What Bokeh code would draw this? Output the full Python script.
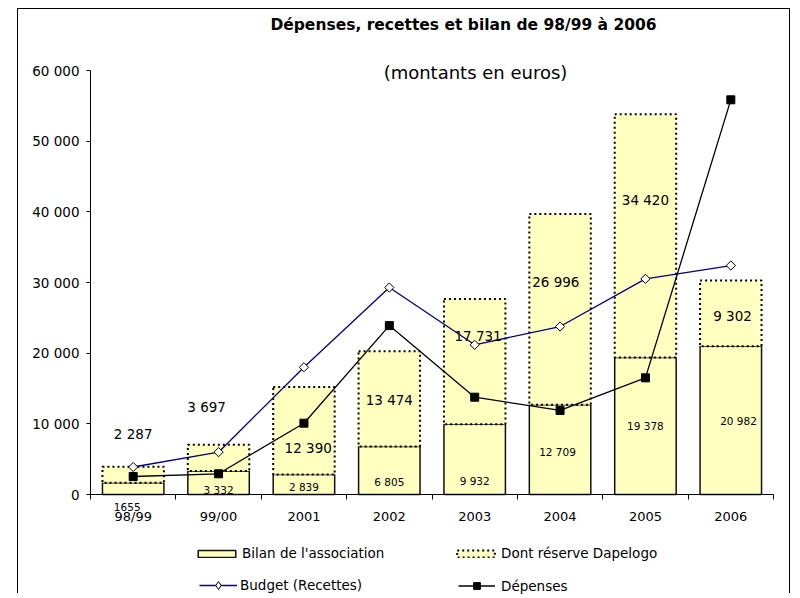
from bokeh.plotting import figure
from bokeh.models import (Range1d, FixedTicker, ColumnDataSource, LabelSet, Label,
                          Legend, LegendItem)
from bokeh.core.properties import value
from bokeh.embed import file_html
from bokeh.resources import INLINE
import math

# ---------------- data ----------------
categories = ["98/99", "99/00", "2001", "2002", "2003", "2004", "2005", "2006"]
bilan = [1655, 3332, 2839, 6805, 9932, 12709, 19378, 20982]
reserve = [2287, 3697, 12390, 13474, 17731, 26996, 34420, 9302]
budget = [3890, 5990, 18010, 29290, 21180, 23770, 30520, 32400]
depenses = [2550, 2930, 10090, 23900, 13770, 11890, 16510, 55850]
y_ticks = [0, 10000, 20000, 30000, 40000, 50000, 60000]
bilan_labels = ["1655", "3 332", "2 839", "6 805", "9 932", "12 709", "19 378", "20 982"]
reserve_labels = ["2 287", "3 697", "12 390", "13 474", "17 731", "26 996", "34 420", "9 302"]

# ---------------- label placement (positions only) ----------------
bilan_lab_dx = [-0.07, 0.0, 0.0, 0.0, 0.0, -0.03, 0.0, 0.09]
bilan_lab_y = [-1800, 570, 1030, 1740, 1880, 5990, 9660, 10470]
reserve_lab_dx = [0.0, -0.14, 0.05, 0.0, 0.04, -0.05, 0.0, 0.02]
reserve_lab_y = [8630, 12450, 6510, 13440, 22500, 30040, 41740, 25230]

FONT = "DejaVu Sans"
YELLOW = "#FFFFC0"

# ---------------- geometry (pixels inside the figure) ----------------
FIG_W, FIG_H = 773, 585
X_AXIS_LEFT_PX, X_AXIS_RIGHT_PX = 72, 755      # from figure left
Y_AXIS_ZERO_PX, Y_AXIS_TOP_PX = 100, 524        # from figure bottom
Y_MAX = y_ticks[-1]
n = len(categories)
x_unit = (X_AXIS_RIGHT_PX - X_AXIS_LEFT_PX) / n
y_unit = (Y_AXIS_TOP_PX - Y_AXIS_ZERO_PX) / Y_MAX
x_range = Range1d(-X_AXIS_LEFT_PX / x_unit, n + (FIG_W - X_AXIS_RIGHT_PX) / x_unit)
y_range = Range1d(-Y_AXIS_ZERO_PX / y_unit, Y_MAX + (FIG_H - Y_AXIS_TOP_PX) / y_unit)

x = [i + 0.5 for i in range(n)]
total = [b + r for b, r in zip(bilan, reserve)]
src = ColumnDataSource(dict(x=x, bilan=bilan, total=total, budget=budget, depenses=depenses))

p = figure(width=FIG_W, height=FIG_H, x_range=x_range, y_range=y_range,
           output_backend="svg", toolbar_location=None, min_border=0)
p.styles = {"margin-left": "17px", "margin-top": "8px",
            "border-left": "1px solid black", "border-top": "1px solid black",
            "border-right": "1px solid black"}
p.outline_line_color = None
p.grid.visible = False
p.background_fill_color = "white"
p.border_fill_color = "white"

# ---------------- bars ----------------
r_bilan = p.vbar(x="x", width=0.72, bottom=0, top="bilan", fill_color=YELLOW,
                 line_color="#111111", line_width=1.5, source=src)
r_res = p.vbar(x="x", width=0.72, bottom="bilan", top="total", fill_color=YELLOW,
               line_color="black", line_width=2, line_dash="2 3", source=src)

# ---------------- lines ----------------
r_bl = p.line("x", "budget", line_color="#000080", line_width=1.3, source=src)
r_dl = p.line("x", "depenses", line_color="black", line_width=1.3, source=src)
# diamond swatch used by the legend (zero-size in the plot, covered by the markers)
r_bs_key = p.scatter("x", "budget", marker="diamond", size=0, fill_color="white",
                     line_color="black", line_width=1, source=src)
r_bs = p.scatter("x", "budget", marker="square", size=6.5, angle=math.pi / 4,
                 fill_color="white", line_color="black", line_width=1, source=src)
r_ds = p.scatter("x", "depenses", marker="square", size=8, fill_color="black",
                 line_color="black", source=src)

# ---------------- data labels ----------------
lab_src = ColumnDataSource(dict(
    bx=[xi + d for xi, d in zip(x, bilan_lab_dx)], by=bilan_lab_y, bt=bilan_labels,
    rx=[xi + d for xi, d in zip(x, reserve_lab_dx)], ry=reserve_lab_y, rt=reserve_labels))
p.add_layout(LabelSet(x="bx", y="by", text="bt", source=lab_src, text_align="center",
                      text_baseline="middle", text_font=value(FONT),
                      text_font_size="10.5px", text_color="black"))
p.add_layout(LabelSet(x="rx", y="ry", text="rt", source=lab_src, text_align="center",
                      text_baseline="middle", text_font=value(FONT),
                      text_font_size="13.5px", text_color="black"))

# ---------------- axes ----------------
xa = p.xaxis[0]
xa.fixed_location = 0
xa.bounds = (0, n)
xa.ticker = FixedTicker(ticks=x, minor_ticks=list(range(n + 1)))
xa.major_label_overrides = {xi: c for xi, c in zip(x, categories)}
xa.major_tick_out = 0
xa.major_tick_in = 0
xa.minor_tick_out = 5
xa.minor_tick_in = 0
xa.minor_tick_line_color = "black"
xa.major_label_standoff = 9
xa.major_label_text_font = FONT
xa.major_label_text_font_size = "13px"
xa.major_label_text_color = "black"
xa.axis_line_color = "black"

ya = p.yaxis[0]
ya.fixed_location = 0
ya.bounds = (0, Y_MAX)
ya.ticker = FixedTicker(ticks=y_ticks)
ya.major_label_overrides = {t: f"{t:,}".replace(",", " ") for t in y_ticks}
ya.major_tick_out = 4
ya.major_tick_in = 0
ya.minor_tick_line_color = None
ya.major_label_standoff = 7
ya.major_label_text_font = FONT
ya.major_label_text_font_size = "13.5px"
ya.major_label_text_color = "black"
ya.axis_line_color = "black"

# ---------------- titles ----------------
p.add_layout(Label(x=445, y=570, x_units="screen", y_units="screen",
                   text="Dépenses, recettes et bilan de 98/99 à 2006",
                   text_font=FONT, text_font_size="15.5px", text_font_style="bold",
                   text_align="center", text_baseline="middle", text_color="black"))
p.add_layout(Label(x=457, y=522, x_units="screen", y_units="screen",
                   text="(montants en euros)", text_font=FONT, text_font_size="18px",
                   text_align="center", text_baseline="middle", text_color="black"))

# ---------------- legends ----------------
def make_legend(label, renderers, loc, gw, gh, standoff):
    return Legend(items=[LegendItem(label=label, renderers=renderers)], location=loc,
                  glyph_width=gw, glyph_height=gh, label_height=gh,
                  label_standoff=standoff, padding=0, margin=0, spacing=0,
                  border_line_color=None, background_fill_alpha=0,
                  label_text_font=FONT, label_text_font_size="13.5px",
                  label_text_color="black")

p.add_layout(make_legend("Bilan de l'association", [r_bilan], (175, 33), 47, 9, 2), "center")
p.add_layout(make_legend("Dont réserve Dapelogo", [r_res], (434, 33), 47, 9, 2), "center")
p.add_layout(make_legend("Budget (Recettes)", [r_bl, r_bs_key], (181, -1), 38, 20, 3), "center")
p.add_layout(make_legend("Dépenses", [r_dl, r_ds], (440, 0), 37, 17, 6), "center")

open("out.html", "w").write(file_html(p, INLINE))
